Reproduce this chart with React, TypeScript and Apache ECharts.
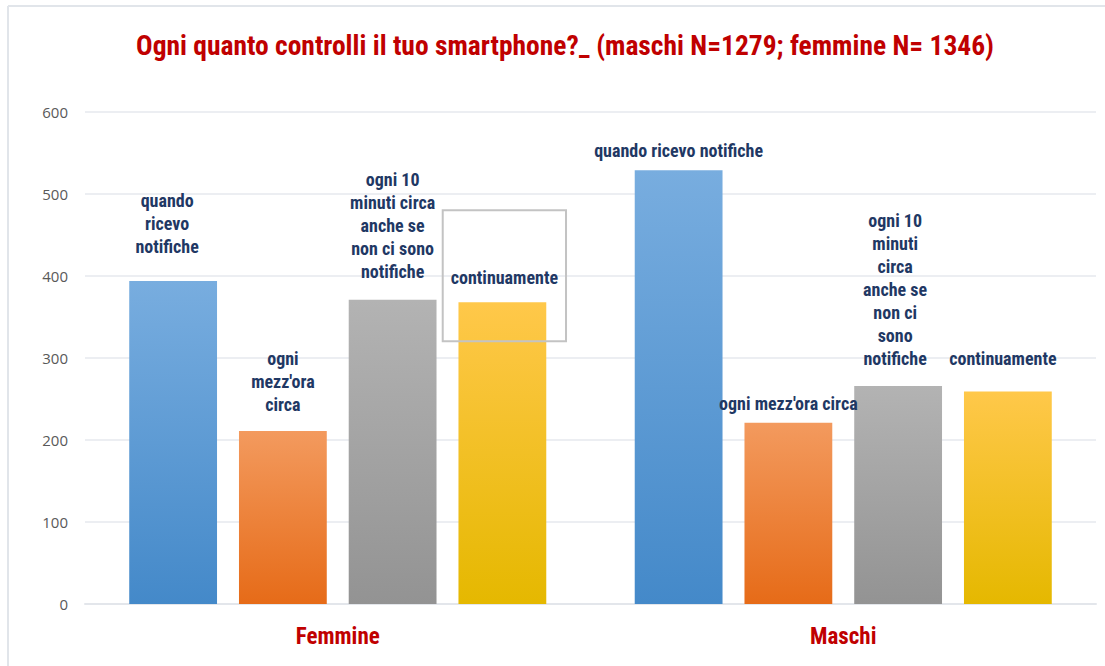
import React, { useEffect, useRef } from "react";
import * as echarts from "echarts";

const categories = ["Femmine", "Maschi"];
const seriesNames = [
  "quando ricevo notifiche",
  "ogni mezz'ora circa",
  "ogni 10 minuti circa anche se non ci sono notifiche",
  "continuamente",
];
const quandoRicevo = [394, 529];
const ogniMezzora = [211, 221];
const ogni10Minuti = [371, 266];
const continuamente = [368, 259];
const yTicks = [0, 100, 200, 300, 400, 500, 600];

const labelTexts = [
  ["quando\nricevo\nnotifiche", "quando ricevo notifiche"],
  ["ogni\nmezz'ora\ncirca", "ogni mezz'ora circa"],
  ["ogni 10\nminuti circa\nanche se\nnon ci sono\nnotifiche", "ogni 10\nminuti\ncirca\nanche se\nnon ci\nsono\nnotifiche"],
  ["continuamente", "continuamente"],
];
const labelOffsets = [
  [[-6, -23], [0, -8]],
  [[0, -15], [0, -8]],
  [[0, -17], [-3, -16]],
  [[2, 39], [-5, -22]],
];

const FONT = "'Liberation Sans Narrow', 'Roboto Condensed', 'Liberation Sans', sans-serif";

const gradients = [
  ["#78addf", "#4489c9"],
  ["#f39a5e", "#e66b18"],
  ["#b3b3b3", "#939393"],
  ["#ffc84a", "#e5b800"],
];

export default function App() {
  const ref = useRef<HTMLDivElement>(null);
  useEffect(() => {
    if (!ref.current) return;
    const chart = echarts.init(ref.current, undefined, { renderer: "svg" });
    const values = [quandoRicevo, ogniMezzora, ogni10Minuti, continuamente];
    const series = values.map((vals, si) => ({
      name: seriesNames[si],
      type: "bar",
      barGap: "25%",
      barCategoryGap: "17.5%",
      itemStyle: {
        color: new echarts.graphic.LinearGradient(0, 0, 0, 1, [
          { offset: 0, color: gradients[si][0] },
          { offset: 1, color: gradients[si][1] },
        ]),
      },
      data: vals.map((v, ci) => {
        const boxed = si === 3 && ci === 0;
        return {
          value: v,
          label: {
            show: true,
            position: "top",
            distance: 0,
            offset: labelOffsets[si][ci],
            formatter: labelTexts[si][ci],
            color: "#1f3864",
            fontWeight: "bold",
            fontFamily: FONT,
            fontSize: 18,
            lineHeight: 23,
            align: "center",
            ...(boxed
              ? {
                  borderColor: "#c3c3c3",
                  borderWidth: 2,
                  padding: [56, 8, 52, 8],
                }
              : {}),
          },
        };
      }),
    }));
    chart.setOption({
      animation: false,
      backgroundColor: "#ffffff",
      title: {
        text: "Ogni quanto controlli il tuo smartphone?_ (maschi N=1279; femmine N= 1346)",
        left: 560,
        textAlign: "center",
        top: 26,
        textStyle: {
          color: "#c00000",
          fontWeight: "bold",
          fontSize: 27.5,
          fontFamily: FONT,
        },
      },
      graphic: [
        { type: "line", shape: { x1: 8, y1: 6, x2: 1105, y2: 6 }, style: { stroke: "#e1e5ea", lineWidth: 2 } },
        { type: "line", shape: { x1: 8, y1: 6, x2: 8, y2: 666 }, style: { stroke: "#e1e5ea", lineWidth: 2 } },
      ],
      grid: { left: 85, right: 9, top: 112, bottom: 62, containLabel: false },
      xAxis: {
        type: "category",
        data: categories,
        axisLine: { lineStyle: { color: "#e3e6eb", width: 2 } },
        axisTick: { show: false },
        axisLabel: {
          color: "#c00000",
          fontWeight: "bold",
          fontSize: 23,
          fontFamily: FONT,
          margin: 21,
        },
      },
      yAxis: {
        type: "value",
        min: yTicks[0],
        max: yTicks[yTicks.length - 1],
        interval: 100,
        axisLine: { show: false },
        axisTick: { show: false },
        splitLine: { lineStyle: { color: "#e6e9ee", width: 1.5 } },
        axisLabel: {
          color: "#595959",
          fontSize: 15,
          fontFamily: "'Open Sans', 'Liberation Sans', sans-serif",
          margin: 17,
        },
      },
      series,
    });
    return () => chart.dispose();
  }, []);
  return (
    <div
      ref={ref}
      style={{ position: "absolute", left: 0, top: 0, width: 1105, height: 666 }}
    />
  );
}
